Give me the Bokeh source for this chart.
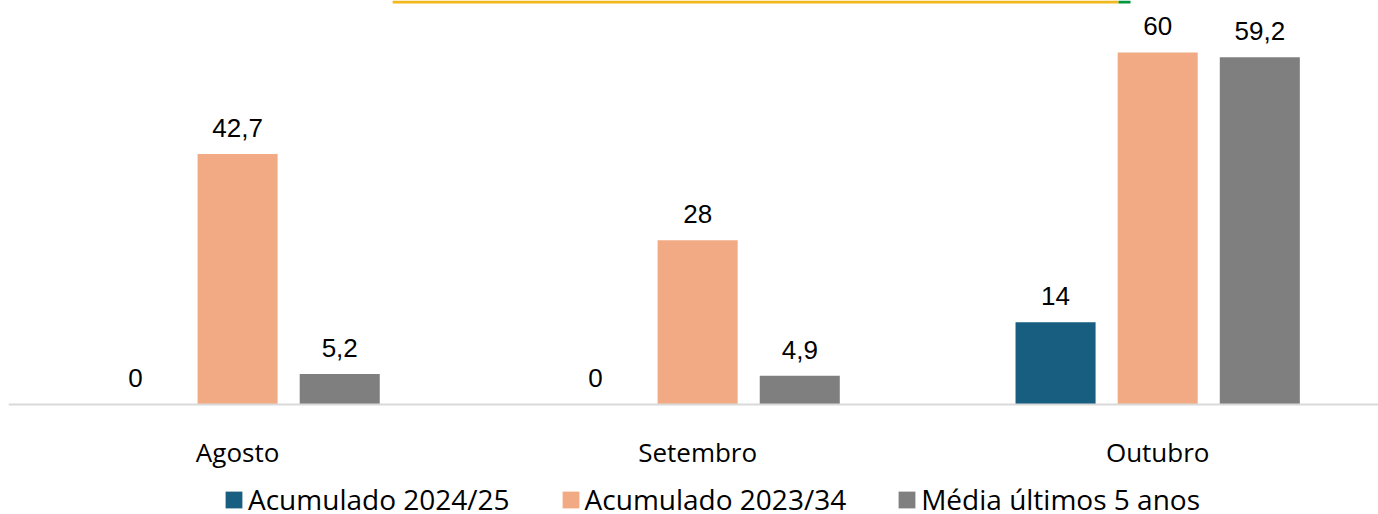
from bokeh.plotting import figure
from bokeh.models import ColumnDataSource, Legend, LegendItem, Span
from bokeh.core.properties import value
from bokeh.embed import file_html
from bokeh.resources import INLINE

months = ["Agosto", "Setembro", "Outubro"]
acum_2425 = [0, 0, 14]
acum_2334 = [42.7, 28, 60]
media_5 = [5.2, 4.9, 59.2]
labels_2425 = ["0", "0", "14"]
labels_2334 = ["42,7", "28", "60"]
labels_media = ["5,2", "4,9", "59,2"]
series_names = ["Acumulado 2024/25", "Acumulado 2023/34", "Média últimos 5 anos"]

colors = ["#175E80", "#F2AA84", "#7F7F7F"]
xs = list(range(len(months)))
offset = 0.222
bw = 0.174
YMAX = 68.86
YMIN = -18.75

p = figure(width=1378, height=514, output_backend="svg", toolbar_location=None,
           x_range=(-0.498, 2.480), y_range=(YMIN, YMAX),
           x_axis_location=None, y_axis_location=None,
           min_border_top=0, min_border_left=8, min_border_right=0, min_border_bottom=0)
p.outline_line_color = None
p.xgrid.visible = False
p.ygrid.visible = False

renderers = []
for i, (vals, labs) in enumerate([(acum_2425, labels_2425), (acum_2334, labels_2334), (media_5, labels_media)]):
    src = ColumnDataSource(dict(x=[x + (i - 1) * offset for x in xs], top=vals, lab=labs))
    r = p.vbar(x="x", top="top", width=bw, bottom=0, source=src, color=colors[i], line_color=None)
    renderers.append(r)
    p.text(x="x", y="top", text="lab", source=src, text_align="center", text_baseline="alphabetic",
           y_offset=-26, text_font=value("Liberation Sans"), text_font_size="26px", text_color="#000000")

# baseline (category axis line)
p.add_layout(Span(location=0, dimension="width", line_color="#D9D9D9", line_width=2))

# category labels
cat_src = ColumnDataSource(dict(x=xs, y=[0] * len(xs), m=months))
p.text(x="x", y="y", text="m", source=cat_src, text_align="center", text_baseline="alphabetic",
       y_offset=48, text_font=value("Open Sans"), text_font_size="26px", text_color="#000000")

# decorative top band
p.quad(left=[0.337], right=[1.915], top=[YMAX], bottom=[YMAX - 0.5], color="#F2B91C", line_color=None)
p.quad(left=[1.915], right=[1.941], top=[YMAX], bottom=[YMAX - 0.5], color="#00963F", line_color=None)

legend = Legend(items=[LegendItem(label=series_names[i], renderers=[renderers[i]]) for i in range(3)],
                orientation="horizontal", location=(215, -4),
                label_text_font="Open Sans", label_text_font_size="28px", label_text_color="#000000",
                glyph_width=21, glyph_height=21, label_standoff=4, spacing=50,
                border_line_color=None, background_fill_alpha=0, padding=0, margin=0)
p.add_layout(legend, "center")

open("out.html", "w").write(file_html(p, INLINE))
